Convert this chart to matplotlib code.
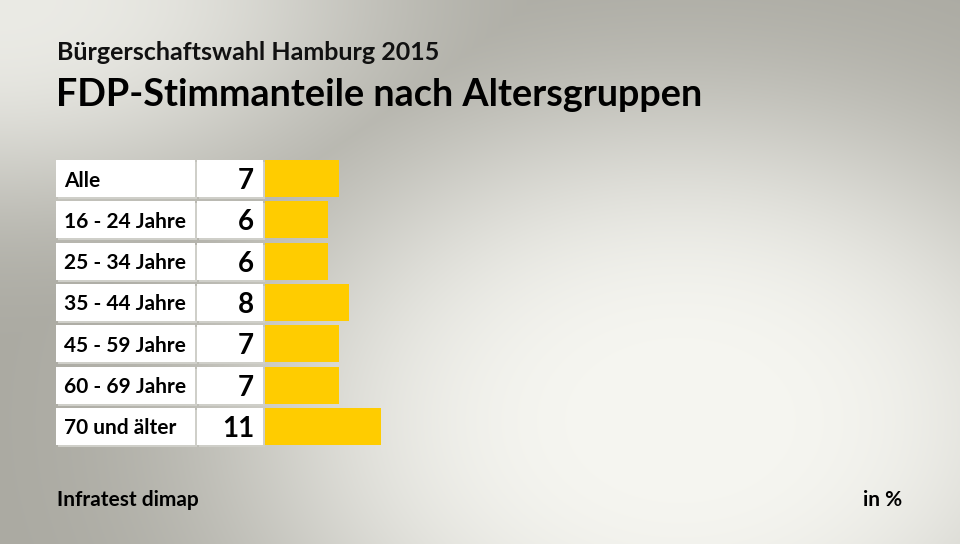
import numpy as np
import matplotlib
matplotlib.use("Agg")
import matplotlib.pyplot as plt

categories = ["Alle", "16 - 24 Jahre", "25 - 34 Jahre", "35 - 44 Jahre",
              "45 - 59 Jahre", "60 - 69 Jahre", "70 und älter"]
values = [7, 6, 6, 8, 7, 7, 11]
value_labels = ["7", "6", "6", "8", "7", "7", "11"]

supertitle = "Bürgerschaftswahl Hamburg 2015"
title = "FDP-Stimmanteile nach Altersgruppen"
source = "Infratest dimap"
unit = "in %"

W, H = 960, 544
FONT = "Lato"
fig = plt.figure(figsize=(W / 100, H / 100), dpi=100)

# background gradient
bg = fig.add_axes([0, 0, 1, 1])
yy, xx = np.mgrid[0:H, 0:W].astype(float)
gray = np.array([170, 169, 161]) / 255.0
light = np.array([246, 246, 241]) / 255.0
dA = ((xx - 680) / 460) ** 2 + ((yy - 420) / 330) ** 2
fA = np.exp(-dA ** 1.6 * 1.1)
dB = ((xx - 0) / 440) ** 2 + ((yy - 0) / 240) ** 2
fB = 0.85 * np.exp(-dB ** 1.3 * 1.5)
f = np.maximum(fA, fB)
img = gray[None, None, :] + (light - gray)[None, None, :] * f[:, :, None]
bg.imshow(img, extent=[0, W, H, 0], aspect="auto", interpolation="bilinear")
bg.set_xlim(0, W)
bg.set_ylim(H, 0)
bg.axis("off")

# main axes: pixel geometry
px_per_unit = 10.55
ax_left_px, ax_right_px = 56, 960
zero_px = 265
row_pitch = 41.33
top_px = 160 - (row_pitch - 37) / 2
bot_px = top_px + row_pitch * len(categories)
ax = fig.add_axes([ax_left_px / W, 1 - bot_px / H,
                   (ax_right_px - ax_left_px) / W, (bot_px - top_px) / H])
ax.set_xlim(-(zero_px - ax_left_px) / px_per_unit,
            (ax_right_px - zero_px) / px_per_unit)
ax.set_ylim(len(categories) - 0.5, -0.5)
ax.axis("off")

bh = 37 / row_pitch
y = np.arange(len(categories))
lab_l = (56 - zero_px) / px_per_unit
lab_r = (195 - zero_px) / px_per_unit
val_l = (197 - zero_px) / px_per_unit
val_r = (263 - zero_px) / px_per_unit
sh = 2 / px_per_unit

# shadows
ax.barh(y + 0.05, lab_r - lab_l, left=lab_l + sh, height=bh, color="#cfcfc9", zorder=1)
ax.barh(y + 0.05, val_r - val_l, left=val_l + sh, height=bh, color="#cfcfc9", zorder=1)
# white boxes
ax.barh(y, lab_r - lab_l, left=lab_l, height=bh, color="white", zorder=2)
ax.barh(y, val_r - val_l, left=val_l, height=bh, color="white", zorder=2)
# bars
ax.barh(y, values, left=0, height=bh, color="#FFCC00", zorder=3)

for i, (c, vl) in enumerate(zip(categories, value_labels)):
    ax.text(lab_l + 8 / px_per_unit, i, c, ha="left", va="center_baseline",
            fontsize=15, fontweight="bold", family=FONT, color="black", zorder=4)
    ax.text(val_r - 9 / px_per_unit, i, vl, ha="right", va="center_baseline",
            fontsize=20, fontweight="bold", family=FONT, color="black", zorder=4)

fig.text(57 / W, 1 - 50 / H, supertitle, ha="left", va="center_baseline",
         fontsize=18, fontweight="bold", family=FONT, color="#111111")
fig.text(56 / W, 1 - 92 / H, title, ha="left", va="center_baseline",
         fontsize=27.2, fontweight="bold", family=FONT, color="black")
fig.text(57 / W, 1 - 498 / H, source, ha="left", va="center_baseline",
         fontsize=15, fontweight="bold", family=FONT, color="black")
fig.text(902 / W, 1 - 498 / H, unit, ha="right", va="center_baseline",
         fontsize=15, fontweight="bold", family=FONT, color="black")

fig.savefig("out.png", dpi=100)
